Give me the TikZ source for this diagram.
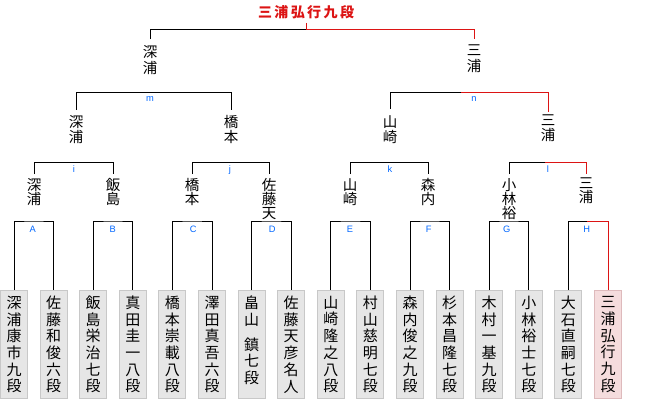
\documentclass[tikz,border=0pt]{standalone}
\usepackage{fontspec}
\newfontfamily\cjk{Noto Sans CJK JP}
\newfontfamily\lat{Liberation Sans}
\definecolor{winred}{RGB}{220,20,20}
\definecolor{lblue}{RGB}{0,102,255}
\definecolor{boxfill}{RGB}{230,230,230}
\definecolor{boxline}{RGB}{200,200,200}
\definecolor{winfill}{RGB}{245,220,221}
\definecolor{winline}{RGB}{222,186,188}
\newcommand\tk{\kern2.4pt}
\begin{document}
\begin{tikzpicture}[x=1pt,y=-1pt,
  leaf/.style={draw=boxline, fill=boxfill, line width=1pt, minimum width=27pt,
    minimum height=108pt, inner sep=0pt, align=center,
    font={\cjk\fontsize{15}{16.7}\selectfont}},
  winleaf/.style={leaf, draw=winline, fill=winfill},
  pnameA/.style={anchor=north, inner sep=0pt, align=center,
    font={\cjk\fontsize{14.5}{14}\selectfont}},
  pnameB/.style={pnameA, font={\cjk\fontsize{14.5}{15}\selectfont}},
  pnameC/.style={pnameA, font={\cjk\fontsize{14.5}{16}\selectfont}},
  glbl/.style={text=lblue, inner sep=0pt, anchor=base, font={\lat\fontsize{9.3}{10}\selectfont}},
  br/.style={line width=1pt, black},
  wbr/.style={line width=1pt, winred},
]
\useasboundingbox (0,0) rectangle (660,400);

% ---------- leaves ----------
\node[leaf] (l1)  at (14,344.5)    {深\\浦\\康\\市\\九\\段};
\node[leaf] (l2)  at (53.6,344.5)  {佐\\藤\\和\\俊\\六\\段};
\node[leaf] (l3)  at (93.2,344.5)  {飯\\島\\栄\\治\\七\\段};
\node[leaf] (l4)  at (132.8,344.5) {真\\田\\圭\\一\\八\\段};
\node[leaf] (l5)  at (172.4,344.5) {橋\\本\\崇\\載\\八\\段};
\node[leaf] (l6)  at (212,344.5)   {澤\\田\\真\\吾\\六\\段};
\node[leaf] (l7)  at (251.6,344.5) {畠\\山\\[8.35pt]鎮\\七\\段\\[-8.35pt]\phantom{段}};
\node[leaf] (l8)  at (291.2,344.5) {佐\\藤\\天\\彦\\名\\人};
\node[leaf] (l9)  at (330.8,344.5) {山\\崎\\隆\\之\\八\\段};
\node[leaf] (l10) at (370.4,344.5) {村\\山\\慈\\明\\七\\段};
\node[leaf] (l11) at (410,344.5)   {森\\内\\俊\\之\\九\\段};
\node[leaf] (l12) at (449.6,344.5) {杉\\本\\昌\\隆\\七\\段};
\node[leaf] (l13) at (489.2,344.5) {木\\村\\一\\基\\九\\段};
\node[leaf] (l14) at (528.8,344.5) {小\\林\\裕\\士\\七\\段};
\node[leaf] (l15) at (568.4,344.5) {大\\石\\直\\嗣\\七\\段};
\node[winleaf] (l16) at (608,344.5) {三\\浦\\弘\\行\\九\\段};

% ---------- round 1 names ----------
\node[pnameA] (r1a) at (34,178)  {深\\浦};
\node[pnameA] (r1b) at (113,178) {飯\\島};
\node[pnameA] (r1c) at (192,178) {橋\\本};
\node[pnameA] (r1d) at (269,178) {佐\\藤\\天};
\node[pnameA] (r1e) at (350,178) {山\\崎};
\node[pnameA] (r1f) at (428,178) {森\\内};
\node[pnameA] (r1g) at (509,178) {小\\林\\裕};
\node[pnameA] (r1h) at (586,178) {三\\浦};

% ---------- round 2 names ----------
\node[pnameB] (r2a) at (76,115)  {深\\浦};
\node[pnameB] (r2b) at (231,115) {橋\\本};
\node[pnameB] (r2c) at (390,115) {山\\崎};
\node[pnameB] (r2d) at (548,115) {三\\浦};

% ---------- round 3 names ----------
\node[pnameC] (r3a) at (150,45) {深\\浦};
\node[pnameC] (r3b) at (474,45) {三\\浦};

% ---------- champion ----------
\node[inner sep=0pt, text=winred, font={\cjk\bfseries\fontsize{14}{14}\selectfont}] (champ) at (306,12.5)
  {三\tk 浦\tk 弘\tk 行\tk 九\tk 段};

% ---------- round 1 brackets ----------
\coordinate (cA) at (33.8,221);
\coordinate (cB) at (113,221);
\coordinate (cC) at (192.2,221);
\coordinate (cD) at (271.4,221);
\coordinate (cE) at (350.6,221);
\coordinate (cF) at (429.8,221);
\coordinate (cG) at (509,221);
\coordinate (cH) at (587,221);
\draw[br] (l1.north) |- (cA) -| (l2.north);
\draw[br] (l3.north) |- (cB) -| (l4.north);
\draw[br] (l5.north) |- (cC) -| (l6.north);
\draw[br] (l7.north) |- (cD) -| (l8.north);
\draw[br] (l9.north) |- (cE) -| (l10.north);
\draw[br] (l11.north) |- (cF) -| (l12.north);
\draw[br] (l13.north) |- (cG) -| (l14.north);
\draw[br] (l15.north) |- (cH);
\draw[wbr] (cH) -| (l16.north);

\node[glbl] (gA) at (32.7,232.5)  {A};
\node[glbl] (gB) at (112.7,232.5) {B};
\node[glbl] (gC) at (193.3,232.5) {C};
\node[glbl] (gD) at (272.3,232.5) {D};
\node[glbl] (gE) at (350,232.5)   {E};
\node[glbl] (gF) at (428.7,232.5) {F};
\node[glbl] (gG) at (506.7,232.5) {G};
\node[glbl] (gH) at (586.7,232.5) {H};

% ---------- round 2 brackets ----------
\coordinate (ci) at (74,162.3);
\coordinate (cj) at (230,162.3);
\coordinate (ck) at (390,162.3);
\coordinate (cl) at (545,162.3);
\draw[br, shorten <=4pt, shorten >=4pt] (r1a.north) |- (ci) -| (r1b.north);
\draw[br, shorten <=4pt, shorten >=4pt] (r1c.north) |- (cj) -| (r1d.north);
\draw[br, shorten <=4pt, shorten >=4pt] (r1e.north) |- (ck) -| (r1f.north);
\draw[br, shorten <=4pt] (r1g.north) |- (cl);
\draw[wbr, shorten >=4pt] (cl) -| (r1h.north);

\node[glbl] (gi) at (74,172)  {i};
\node[glbl] (gj) at (230,172) {j};
\node[glbl] (gk) at (390,172) {k};
\node[glbl] (gl) at (548,172) {l};

% ---------- round 3 brackets ----------
\coordinate (cm) at (154,92.3);
\coordinate (cn) at (461,92.3);
\draw[br, shorten <=5.5pt, shorten >=5.5pt] (r2a.north) |- (cm) -| (r2b.north);
\draw[br, shorten <=6.5pt] (r2c.north) |- (cn);
\draw[wbr, shorten >=3pt] (cn) -| (r2d.north);

\node[glbl] (gm) at (150,101.5) {m};
\node[glbl] (gn) at (474,101.5) {n};

% ---------- final ----------
\coordinate (cf) at (306,29.3);
\draw[br, shorten <=6pt] (r3a.north) |- (cf);
\draw[wbr, shorten >=6pt] (cf) -| (r3b.north);
\draw[wbr, shorten <=3.5pt] (champ.south) -- (cf);
\end{tikzpicture}
\end{document}
